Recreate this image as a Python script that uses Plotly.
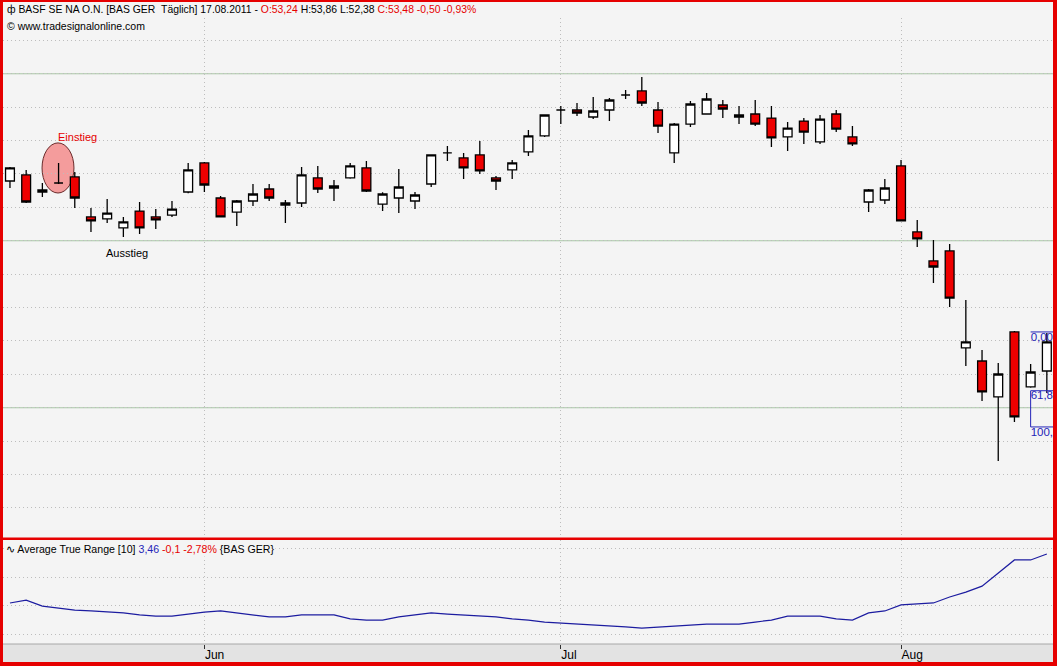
import pandas as pd
import plotly.graph_objects as go

W, H = 1057, 666

# trading days shown (16.05.2011 - 12.08.2011)
dates = [d.strftime("%Y-%m-%d") for d in pd.bdate_range("2011-05-16", "2011-08-12")]

opens = [63.58, 63.94, 62.92, 63.46, 63.82, 61.43, 61.31, 60.77, 61.78, 61.43, 61.54, 62.92,
         64.66, 62.56, 61.72, 62.38, 63.10, 62.26, 62.26, 63.76, 63.28, 63.76, 64.36, 62.20,
         62.56, 62.38, 63.40, 65.26, 64.96, 65.14, 63.76, 64.24, 65.32, 66.28, 67.83, 67.83,
         67.41, 67.83, 68.73, 68.97, 67.83, 65.26, 66.99, 67.59, 68.13, 67.53, 67.59, 67.35,
         66.22, 67.17, 65.92, 67.59, 66.22, 62.32, 62.44, 64.48, 60.53, 58.79, 59.39, 53.58,
         52.80, 50.65, 54.54, 51.25, 52.20]
highs = [64.42, 64.24, 63.46, 64.66, 64.12, 61.96, 62.50, 61.43, 62.32, 61.90, 62.38, 64.66,
         64.72, 62.68, 62.44, 63.40, 63.40, 62.44, 64.42, 64.48, 63.64, 64.66, 64.78, 62.90,
         64.30, 62.92, 65.18, 65.68, 65.26, 65.98, 63.88, 64.84, 66.63, 67.58, 68.07, 68.25,
         68.61, 68.55, 69.03, 69.81, 68.31, 67.05, 68.37, 68.85, 68.43, 68.07, 68.43, 68.07,
         67.11, 67.35, 67.53, 67.83, 66.87, 63.10, 63.70, 64.84, 61.25, 60.05, 59.81, 56.46,
         53.46, 52.68, 54.60, 52.62, 54.48]
lows = [63.16, 62.26, 62.62, 63.40, 61.96, 60.53, 61.07, 60.23, 60.41, 60.71, 61.43, 62.85,
        62.92, 61.40, 60.89, 62.08, 62.38, 61.07, 62.02, 62.86, 62.38, 63.72, 62.92, 61.78,
        61.66, 61.90, 63.22, 64.78, 63.70, 64.00, 63.04, 63.70, 65.08, 66.22, 66.99, 67.47,
        67.29, 67.17, 68.49, 68.07, 66.46, 64.66, 66.81, 67.55, 67.35, 66.99, 66.87, 65.62,
        65.38, 65.80, 65.80, 66.51, 65.68, 61.72, 62.20, 61.15, 59.63, 57.47, 56.04, 52.50,
        50.41, 46.81, 49.15, 51.20, 50.89]
closes = [64.36, 62.32, 63.04, 63.46, 62.56, 61.19, 61.66, 61.13, 60.77, 61.25, 61.90, 64.24,
          63.34, 61.43, 62.38, 62.80, 62.56, 62.14, 63.94, 63.10, 63.16, 64.48, 62.98, 62.80,
          63.22, 62.74, 65.14, 65.26, 64.36, 64.18, 63.58, 64.66, 66.28, 67.53, 67.83, 67.65,
          67.77, 68.43, 68.73, 68.25, 66.87, 66.99, 68.19, 68.49, 67.89, 67.41, 66.99, 66.16,
          66.75, 66.51, 67.29, 66.69, 65.80, 63.04, 63.16, 61.19, 60.11, 58.43, 56.57, 53.94,
          50.95, 52.02, 49.45, 52.14, 53.94]

atr = [2.09, 2.19, 1.98, 1.91, 1.84, 1.81, 1.77, 1.74, 1.67, 1.63, 1.63, 1.70, 1.77, 1.81,
       1.74, 1.67, 1.60, 1.60, 1.67, 1.67, 1.67, 1.53, 1.49, 1.49, 1.60, 1.67, 1.74, 1.70,
       1.67, 1.63, 1.60, 1.53, 1.49, 1.42, 1.39, 1.35, 1.32, 1.28, 1.25, 1.21, 1.25, 1.28,
       1.32, 1.35, 1.35, 1.35, 1.42, 1.49, 1.63, 1.63, 1.63, 1.53, 1.49, 1.74, 1.81, 2.02,
       2.05, 2.09, 2.30, 2.47, 2.68, 3.14, 3.60, 3.60, 3.81]

month_ticks = ["2011-06-01", "2011-07-01", "2011-08-01"]
month_labels = ["Jun", "Jul", "Aug"]

fib_start = 63
fib_levels = [54.54, 51.02, 48.85]
fib_labels = ["0,00", "61,80", "100,0"]
level_lines = [50, 60, 70]

RED = "#e60000"
BLUE = "#2424b8"
FONT = "Liberation Sans, Arial, sans-serif"


def px(x):
    return x / W


def py(y):
    return 1 - y / H


fig = go.Figure()

fig.add_trace(go.Candlestick(
    x=dates, open=opens, high=highs, low=lows, close=closes,
    increasing=dict(fillcolor="white", line=dict(color="black", width=1.3)),
    decreasing=dict(fillcolor="#ee0000", line=dict(color="black", width=1.3)),
    whiskerwidth=0, showlegend=False, hoverinfo="skip",
    xaxis="x", yaxis="y",
))

fig.add_trace(go.Scatter(
    x=[dates[fib_start]] * len(fib_levels), y=fib_levels, text=fib_labels,
    mode="text", textposition="bottom right", cliponaxis=True,
    textfont=dict(color=BLUE, size=11.5, family=FONT),
    showlegend=False, hoverinfo="skip", xaxis="x", yaxis="y",
))

fig.add_trace(go.Scatter(
    x=dates, y=atr, mode="lines", line=dict(color="#1c1ca0", width=1.2),
    showlegend=False, hoverinfo="skip", xaxis="x2", yaxis="y2",
))

shapes = []
# axis strip at the bottom
shapes.append(dict(type="rect", xref="paper", yref="paper", x0=0, x1=1, y0=py(662), y1=py(644),
                   fillcolor="#e3e3e3", line=dict(width=0), layer="below"))
shapes.append(dict(type="line", xref="paper", yref="paper", x0=0, x1=1, y0=py(644), y1=py(644),
                   line=dict(color="#a8a8a8", width=1), layer="above"))
# green level lines
for lvl in level_lines:
    shapes.append(dict(type="line", xref="paper", yref="y", x0=px(3), x1=px(1053), y0=lvl, y1=lvl,
                       line=dict(color="#a9c8a6", width=1), layer="below"))
# Einstieg marker
shapes.append(dict(type="circle", xref="x", yref="y", x0=1.98, x1=3.95, y0=62.86, y1=65.86,
                   fillcolor="rgba(243,140,140,0.85)", line=dict(color="#6a2a2a", width=1),
                   layer="below"))
# fibonacci box
for lvl in fib_levels:
    shapes.append(dict(type="line", xref="x", yref="y", x0=fib_start, x1=fib_start + 5, y0=lvl, y1=lvl,
                       line=dict(color=BLUE, width=1)))
shapes.append(dict(type="line", xref="x", yref="y", x0=fib_start, x1=fib_start,
                   y0=fib_levels[1], y1=fib_levels[2], line=dict(color=BLUE, width=1)))
# red frame and panel separator
for x0, x1, y0, y1 in [(0, px(3), 0, 1), (px(1053), 1, 0, 1), (0, 1, py(2), 1),
                       (0, 1, 0, py(662)), (0, 1, py(540), py(537.5))]:
    shapes.append(dict(type="rect", xref="paper", yref="paper", x0=x0, x1=x1, y0=y0, y1=y1,
                       fillcolor=RED, line=dict(width=0), layer="above"))

annotations = [
    dict(xref="paper", yref="paper", x=px(5), y=py(10), xanchor="left", yanchor="middle",
         showarrow=False, font=dict(size=10.4, color="black", family=FONT),
         text="ф BASF SE NA O.N. [BAS GER\u00a0\u00a0Täglich] 17.08.2011 - "
              f"<span style='color:{RED}'>O:53,24</span> H:53,86 L:52,38 "
              f"<span style='color:{RED}'>C:53,48 -0,50 -0,93%</span>"),
    dict(xref="paper", yref="paper", x=px(5), y=py(26), xanchor="left", yanchor="middle",
         showarrow=False, font=dict(size=10.5, color="black", family=FONT),
         text="© www.tradesignalonline.com"),
    dict(xref="paper", yref="paper", x=px(4), y=py(549), xanchor="left", yanchor="middle",
         showarrow=False, font=dict(size=10.6, color="black", family=FONT), bgcolor="#f4f4f4",
         text=f"∿ Average True Range [10] <span style='color:{BLUE}'>3,46</span> "
              f"<span style='color:{RED}'>-0,1 -2,78%</span> {{BAS GER}}"),
    dict(xref="x", yref="y", x=4.15, y=66.22, showarrow=False,
         font=dict(size=11, color=RED, family=FONT), text="Einstieg"),
    dict(xref="x", yref="y", x=7.2, y=59.27, showarrow=False,
         font=dict(size=11, color="black", family=FONT), text="Ausstieg"),
]

grid = dict(showgrid=True, gridcolor="#bdbdbd", griddash="1px,3px", gridwidth=1)

fig.update_layout(
    width=W, height=H,
    margin=dict(l=0, r=0, t=0, b=0, autoexpand=False),
    paper_bgcolor="#f4f4f4", plot_bgcolor="#f4f4f4",
    boxgap=0.22, hovermode=False, showlegend=False,
    font=dict(family=FONT, size=12, color="black"),
    xaxis=dict(domain=[px(3), px(1053)], anchor="y", type="category", range=[-0.43, 64.38],
               tickvals=month_ticks, showticklabels=False, ticks="", zeroline=False,
               rangeslider=dict(visible=False), **grid),
    yaxis=dict(domain=[py(537), py(18)], anchor="x", range=[42.26, 73.34], dtick=2,
               showticklabels=False, ticks="", zeroline=False, **grid),
    xaxis2=dict(domain=[px(3), px(1053)], anchor="y2", type="category", matches="x",
                tickvals=month_ticks, ticktext=month_labels, ticks="outside", ticklen=4,
                tickcolor="#303030", ticklabelposition="outside right",
                tickfont=dict(size=12, color="black", family=FONT), zeroline=False, **grid),
    yaxis2=dict(domain=[py(644), py(540)], anchor="x2", range=[0.65, 4.30], dtick=1,
                showticklabels=False, ticks="", zeroline=False, **grid),
    shapes=shapes, annotations=annotations,
)

fig.write_html("out.html", config={"displayModeBar": False},
               post_script="document.body.style.margin='0';")
